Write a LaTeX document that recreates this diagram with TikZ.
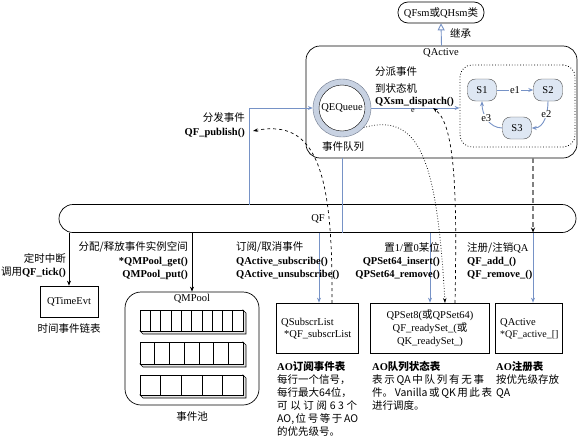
\documentclass[tikz,border=0pt]{standalone}
\usepackage{fontspec}
\setmainfont{Liberation Serif}
\newfontfamily\cjk{Noto Sans CJK SC}
\usetikzlibrary{arrows.meta}
\definecolor{linkblue}{RGB}{118,146,198}
\definecolor{statefill}{RGB}{222,231,243}
\definecolor{ringfill}{RGB}{200,210,226}
\definecolor{ringline}{RGB}{110,120,140}
\begin{document}
\begin{tikzpicture}[x=1pt,y=-1pt,
  every node/.style={inner sep=0pt, font=\fontsize{10.5}{12}\selectfont},
  box/.style={draw, line width=0.7pt},
  blueline/.style={draw=linkblue, line width=0.9pt},
  bluearrow/.style={blueline, -{Stealth[length=5pt,width=4pt]}},
  blackarrow/.style={draw=black, line width=0.7pt, -{Stealth[length=5pt,width=4pt]}},
  curvearrow/.style={line width=0.7pt, -{Stealth[length=5pt,width=3.5pt]}},
  state/.style={draw=black!70, fill=statefill, rounded corners=8pt, minimum width=29pt, minimum height=22pt},
  elabel/.style={fill=white, inner sep=0.6pt},
  body/.style={font=\fontsize{10.5}{13}\selectfont}
]
\useasboundingbox (0,0) rectangle (578,439);

% ---------- top class and QActive ----------
\node[box, rounded corners=10pt, minimum width=86pt, minimum height=21pt] (qfsm) at (441,12.5) {QFsm{\cjk 或}QHsm{\cjk 类}};
\node[box, rounded corners=14pt, minimum width=271pt, minimum height=112pt] (qactive) at (441.5,102) {};
\node[anchor=base] (qactivet) at (441,55.5) {QActive};
\draw[draw=linkblue, line width=0.9pt, -{Triangle[open, length=7pt, width=7pt]}] (qactive.north) -- (qfsm.south);
\node[anchor=base west] (inh) at (450,37.5) {\cjk 继承};

% dotted state machine region
\node[draw, dotted, line width=0.8pt, rounded corners=12pt, minimum width=115pt, minimum height=82pt] (sm) at (517.5,106) {};
\node[state] (s1) at (482,90) {S1};
\node[state] (s2) at (548,90) {S2};
\node[state] (s3) at (517,128) {S3};
\draw[bluearrow] (s1) -- node[elabel] (e1) {e1} (s2);
\draw[bluearrow] (s2.south) to[out=-90,in=0] node[elabel, pos=0.35] (e2) {e2} (s3.east);
\draw[bluearrow] (s3.west) to[out=180,in=-90] node[elabel, pos=0.55] (e3) {e3} (s1.south);

% event queue
\node[circle, draw=ringline, fill=ringfill, minimum size=58pt] (qeqo) at (342,108) {};
\node[circle, draw, fill=white, minimum size=46pt, font=\fontsize{10.5}{12}\selectfont] (qeq) at (342,108) {QEQueue};
\node[anchor=base] (eql) at (343,150.5) {\cjk 事件队列};

\node[anchor=base west] (dis1) at (375,75.5) {\cjk 分派事件};
\node[anchor=base west] (dis2) at (375,92) {\cjk 到状态机};
\node[anchor=base west] (dis3) at (375,104.5) {\textbf{QXsm\_dispatch()}};
\draw[bluearrow] (qeqo.east) -- (qeqo.east -| sm.west);
\node[font=\fontsize{8}{9}\selectfont] (elbl) at (413,111) {e};

% ---------- QF bar ----------
\node[box, rounded corners=14pt, minimum width=517pt, minimum height=28pt] (qf) at (317.5,218.5) {};
\node (qft) at (318,219) {QF};

% publish
\coordinate (pubs) at (249,204.5);
\draw[bluearrow] (pubs) |- (qeqo.west);
\node[anchor=base east] (pub1) at (245,121.5) {\cjk 分发事件};
\node[anchor=base east] (pub2) at (245,135.5) {\textbf{QF\_publish()}};

% ---------- bottom boxes ----------
\node[box, minimum width=58pt, minimum height=31pt] (qtime) at (69,301.5) {QTimeEvt};
\node[anchor=base] (qtimel) at (69,332.5) {\cjk 时间事件链表};

\node[box, rounded corners=16pt, minimum width=134pt, minimum height=113pt] (qmpool) at (192,348.5) {};
\node[anchor=base] (qmpoolt) at (192,301.5) {QMPool};
\node[anchor=base] (qmpooll) at (192,420.5) {\cjk 事件池};
\foreach \ya/\yb/\n in {310/331/10, 342/364/7, 375/395/5} {
  \filldraw[fill=gray!20, line width=0.6pt] (140,\yb) -- (143,\yb+3) -- (246,\yb+3) -- (246,\ya+3) -- (243,\ya) -- (243,\yb) -- cycle;
  \draw[line width=0.6pt, fill=white] (140,\ya) rectangle (243,\yb);
  \pgfmathtruncatemacro\m{\n-1}
  \foreach \i in {1,...,\m} {
    \draw[line width=0.6pt] ({140+\i*103/\n},\ya) -- ({140+\i*103/\n},\yb);
  }
}

\node[box, minimum width=82pt, minimum height=50pt] (subs) at (317,328) {};
\node[anchor=base west] (subs1) at (281,325.5) {QSubscrList};
\node[anchor=base west] (subs2) at (284,337) {*QF\_subscrList};

\node[box, minimum width=119pt, minimum height=50pt] (qpset) at (429.5,328) {};
\node[align=center, font=\fontsize{10.5}{13}\selectfont] (qpsett) at (430,328) {QPSet8({\cjk 或}QPSet64)\\QF\_readySet\_({\cjk 或}\\QK\_readySet\_)};

\node[box, minimum width=67pt, minimum height=50pt] (qa2) at (528.5,328) {};
\node[anchor=base west] (qa21) at (500,325.5) {QActive};
\node[anchor=base west, font=\fontsize{10}{12}\selectfont] (qa22) at (500,337) {*QF\_active\_[]};

% ---------- connectors from bar ----------
\draw[blackarrow] (qtime.north |- qf.south) -- (qtime.north);
\draw[blackarrow] (qmpool.north |- qf.south) -- (qmpool.north);

\coordinate (qab) at (342,158);
\coordinate (qfb1) at (342,232.5);
\draw[blueline] (qab) -- (qfb1);
\coordinate (subsin) at (319,232.5);
\draw[bluearrow] (subsin) -- (subsin |- subs.north);
\coordinate (psin) at (430,232.5);
\draw[bluearrow] (psin) -- (psin |- qpset.north);

\coordinate (regtop) at (533,158);
\coordinate (regbar) at (533,232.5);
\draw[draw=gray, line width=1.2pt, dash pattern=on 5pt off 3pt, -{Stealth[length=5pt,width=4pt,color=black]}] (regtop) -- (regbar);
\draw[bluearrow] (regbar) -- (regbar |- qa2.north);

% dashed / dotted curves
\coordinate (d1s) at (332,303);
\draw[curvearrow, dashed] (d1s) .. controls (333,175) and (318,118) .. (253,131);
\coordinate (dotend) at (445,303);
\draw[curvearrow, dotted, line width=0.8pt] (qeqo.-42) .. controls (420,112) and (437,160) .. (dotend);
\coordinate (d2s) at (455,303);
\coordinate (d2e) at (433,108);
\draw[curvearrow, dashed] (d2s) .. controls (457,200) and (456,125) .. (d2e);

% ---------- labels below bar ----------
\node[anchor=base east] (tick1) at (66,262.5) {\cjk 定时中断};
\node[anchor=base east] (tick2) at (66,275.5) {{\cjk 调用}\textbf{QF\_tick()}};
\node[anchor=base east] (pool1) at (188,250.5) {\cjk 分配/释放事件实例空间};
\node[anchor=base east] (pool2) at (188,264.5) {\textbf{*QMPool\_get()}};
\node[anchor=base east] (pool3) at (188,277.5) {\textbf{QMPool\_put()}};
\node[anchor=base west] (sub1) at (236,250.5) {\cjk 订阅/取消事件};
\node[anchor=base west] (sub2) at (236,264.5) {\textbf{QActive\_subscribe()}};
\node[anchor=base west] (sub3) at (236,277.5) {\textbf{QActive\_unsubscribe()}};
\node[anchor=base east] (set1) at (440,251) {{\cjk 置}1/{\cjk 置}0{\cjk 某位}};
\node[anchor=base east] (set2) at (440,264.5) {\textbf{QPSet64\_insert()}};
\node[anchor=base east] (set3) at (440,277.5) {\textbf{QPSet64\_remove()}};
\node[anchor=base west] (reg1) at (467,251) {{\cjk 注册/注销}QA};
\node[anchor=base west] (reg2) at (467,264.5) {\textbf{QF\_add\_()}};
\node[anchor=base west] (reg3) at (467,277.5) {\textbf{QF\_remove\_()}};

% ---------- descriptive texts ----------
\node[anchor=north west, align=left, body] (desc1) at (277,361) {\textbf{AO}{\cjk\bfseries 订阅事件表}\\{\cjk 每行一个信号，}\\{\cjk 每行最大64位，}\\\makebox[80pt][s]{\cjk 可 以 订 阅 6 3 个}\\\makebox[78pt][s]{\cjk AO, 位 号 等 于 AO}\\{\cjk 的优先级号。}};
\node[anchor=north west, align=left, body] (desc2) at (372,361) {\textbf{AO}{\cjk\bfseries 队列状态表}\\\makebox[112pt][s]{\cjk 表 示 QA 中 队 列 有 无 事}\\\makebox[112pt][s]{\cjk 件。 Vanilla 或 QK 用 此 表}\\{\cjk 进行调度。}};
\node[anchor=north west, align=left, body] (desc3) at (496,361) {\textbf{AO}{\cjk\bfseries 注册表}\\{\cjk 按优先级存放}\\{\cjk QA}};
\end{tikzpicture}
\end{document}
